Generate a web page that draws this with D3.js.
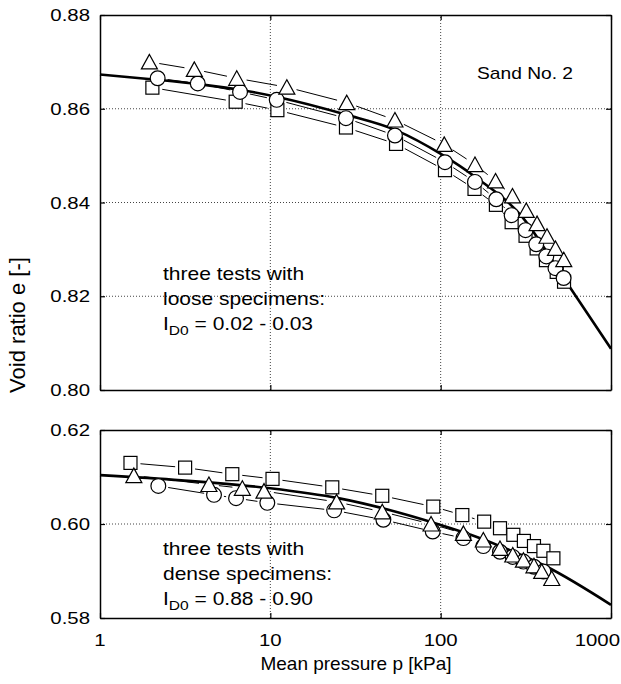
<!DOCTYPE html>
<html>
<head>
<meta charset="utf-8">
<script src="https://cdn.jsdelivr.net/npm/d3@7"></script>
<style>
  body { margin: 0; background: #fff; }
  svg { display: block; font-family: "Liberation Sans", Arial, Helvetica, sans-serif; }
</style>
</head>
<body>
<svg></svg>
<script>
// axis ticks
const pTicks = [1, 10, 100, 1000];
const looseTicks = [0.8, 0.82, 0.84, 0.86, 0.88];
const denseTicks = [0.58, 0.6, 0.62];

// loose specimens [p kPa, e]
const looseTriangles = [[1.95, 0.8700], [3.58, 0.8684], [6.35, 0.8665], [12.5, 0.8646], [28.1, 0.8613],
  [53.9, 0.8576], [105, 0.8524], [159, 0.8481], [210, 0.8446], [264, 0.8414], [318, 0.8383],
  [368, 0.8355], [421, 0.8328], [472, 0.8302], [528, 0.8278]];
const looseCircles = [[2.18, 0.8665], [3.75, 0.8654], [6.64, 0.8636], [10.9, 0.8619], [27.8, 0.8580],
  [53.9, 0.8543], [106, 0.8486], [159, 0.8444], [212, 0.8407], [261, 0.8373], [315, 0.8341],
  [364, 0.8311], [417, 0.8285], [472, 0.8260], [527, 0.8239]];
const looseSquares = [[2.03, 0.8645], [6.26, 0.8615], [11.0, 0.8597], [27.8, 0.8560], [54.7, 0.8525],
  [106, 0.8469], [158, 0.8429], [211, 0.8395], [261, 0.8358], [315, 0.8329], [366, 0.8302],
  [415, 0.8277], [480, 0.8252], [530, 0.8231]];
const looseFit = [[1, 0.8673], [2, 0.8663], [3.9, 0.8652], [7, 0.8639], [11, 0.8625], [28, 0.8587],
  [54, 0.8555], [103, 0.8501], [159, 0.8455], [300, 0.8370], [530, 0.8238], [1000, 0.8088]];

// dense specimens [p kPa, e]
const denseSquares = [[1.51, 0.6130], [3.16, 0.6120], [5.98, 0.6106], [10.3, 0.6096], [23.1, 0.6078],
  [45.4, 0.6060], [90.5, 0.6037], [134, 0.6019], [180, 0.6005], [223, 0.5991], [267, 0.5977],
  [308, 0.5964], [353, 0.5953], [401, 0.5943], [459, 0.5927]];
const denseTriangles = [[1.58, 0.6103], [4.36, 0.6084], [6.85, 0.6076], [9.18, 0.6070], [24.5, 0.6047],
  [45.4, 0.6026], [87.8, 0.6000], [136, 0.5980], [178, 0.5966], [223, 0.5948], [265, 0.5934],
  [306, 0.5923], [353, 0.5911], [392, 0.5899], [449, 0.5884]];
const denseCircles = [[2.20, 0.6081], [4.67, 0.6062], [6.29, 0.6055], [9.6, 0.6045], [23.7, 0.6029],
  [46.1, 0.6009], [89.8, 0.5984], [136, 0.5970], [178, 0.5953], [223, 0.5941], [265, 0.5930],
  [306, 0.5920], [353, 0.5909], [401, 0.5899]];
const denseFit = [[1, 0.6104], [3, 0.6093], [10, 0.6076], [25, 0.6055], [100, 0.5998], [150, 0.5977],
  [216, 0.5955], [420, 0.5909], [1000, 0.5828]];

const sizes = {
  svg: { width: 621, height: 684 },
  plot: { left: 100, right: 611 },
  top: { top: 15, bottom: 390 },
  bottom: { top: 430, bottom: 618 },
  tick: 5,
  gap: 10,
  textStretch: 1.2
};

const svg = d3.select("svg")
  .attr("width", sizes.svg.width)
  .attr("height", sizes.svg.height);

const x = d3.scaleLog().domain([1, 1000]).range([sizes.plot.left, sizes.plot.right]);
const yTop = d3.scaleLinear().domain([0.8, 0.88]).range([sizes.top.bottom, sizes.top.top]);
const yBottom = d3.scaleLinear().domain([0.58, 0.62]).range([sizes.bottom.bottom, sizes.bottom.top]);

const fitLine = y => d3.line()
  .x(d => x(d[0]))
  .y(d => y(d[1]))
  .curve(d3.curveMonotoneX);

function stretchedText(g, px, py, anchor) {
  return g.append("text")
    .attr("transform", `translate(${px},${py}) scale(${sizes.textStretch},1)`)
    .attr("text-anchor", anchor);
}

function drawPanel(y, ticks) {
  const g = svg.append("g");
  const [y0, y1] = y.range();

  // dotted grid on inner ticks
  const inner = ticks.filter(t => t !== ticks[0] && t !== ticks[ticks.length - 1]);
  g.selectAll(".hgrid").data(inner).enter().append("line")
    .attr("x1", x(1)).attr("x2", x(1000))
    .attr("y1", d => y(d)).attr("y2", d => y(d))
    .attr("stroke", "#444").attr("stroke-width", 1).attr("stroke-dasharray", "1,2");
  g.selectAll(".vgrid").data([10, 100]).enter().append("line")
    .attr("x1", d => x(d)).attr("x2", d => x(d))
    .attr("y1", y0).attr("y2", y1)
    .attr("stroke", "#444").attr("stroke-width", 1).attr("stroke-dasharray", "1,2");

  // inward ticks on all four sides
  const bottomAxis = d3.axisBottom(x).tickValues(pTicks).tickSizeInner(-sizes.tick).tickSizeOuter(0).tickFormat("");
  const topAxis = d3.axisTop(x).tickValues(pTicks).tickSizeInner(-sizes.tick).tickSizeOuter(0).tickFormat("");
  const leftAxis = d3.axisLeft(y).tickValues(ticks).tickSizeInner(-sizes.tick).tickSizeOuter(0).tickFormat("");
  const rightAxis = d3.axisRight(y).tickValues(ticks).tickSizeInner(-sizes.tick).tickSizeOuter(0).tickFormat("");
  g.append("g").attr("transform", `translate(0,${y0})`).call(bottomAxis);
  g.append("g").attr("transform", `translate(0,${y1})`).call(topAxis);
  g.append("g").attr("transform", `translate(${x(1)},0)`).call(leftAxis);
  g.append("g").attr("transform", `translate(${x(1000)},0)`).call(rightAxis);
  g.selectAll(".domain").attr("stroke", "#000").attr("stroke-width", 1.5);
  g.selectAll(".tick line").attr("stroke", "#000").attr("stroke-width", 1.2);

  // y tick labels
  ticks.forEach(t => {
    stretchedText(g, 90, y(t) + 6, "end")
      .attr("font-size", 17)
      .text(d3.format(".2f")(t));
  });
  return g;
}

function connect(g, y, data) {
  const pts = data.map(d => [x(d[0]), y(d[1])]);
  for (let i = 0; i < pts.length - 1; i++) {
    const [ax, ay] = pts[i];
    const [bx, by] = pts[i + 1];
    const len = Math.hypot(bx - ax, by - ay);
    if (len < sizes.gap * 2 + 2) continue;
    const ux = (bx - ax) / len;
    const uy = (by - ay) / len;
    g.append("line")
      .attr("x1", ax + ux * sizes.gap).attr("y1", ay + uy * sizes.gap)
      .attr("x2", bx - ux * sizes.gap).attr("y2", by - uy * sizes.gap)
      .attr("stroke", "#000").attr("stroke-width", 1);
  }
}

function drawSquares(g, y, data) {
  g.selectAll(null).data(data).enter().append("rect")
    .attr("x", d => x(d[0]) - 6.5).attr("y", d => y(d[1]) - 6.5)
    .attr("width", 13).attr("height", 13)
    .attr("fill", "#fff").attr("stroke", "#000").attr("stroke-width", 1.2);
}

function drawCircles(g, y, data) {
  g.selectAll(null).data(data).enter().append("circle")
    .attr("cx", d => x(d[0])).attr("cy", d => y(d[1])).attr("r", 7.4)
    .attr("fill", "#fff").attr("stroke", "#000").attr("stroke-width", 1.2);
}

function drawTriangles(g, y, data) {
  g.selectAll(null).data(data).enter().append("path")
    .attr("d", d => {
      const cx = x(d[0]);
      const cy = y(d[1]);
      return `M${cx},${cy - 7.5}L${cx - 8},${cy + 7}L${cx + 8},${cy + 7}Z`;
    })
    .attr("fill", "#fff").attr("stroke", "#000").attr("stroke-width", 1.2);
}

function drawSeries(y, squares, circles, triangles, fit) {
  const g = svg.append("g");
  [squares, circles, triangles].forEach(s => connect(g, y, s));
  g.append("path")
    .attr("d", fitLine(y)(fit))
    .attr("fill", "none").attr("stroke", "#000").attr("stroke-width", 2.6);
  drawSquares(g, y, squares);
  drawCircles(g, y, circles);
  drawTriangles(g, y, triangles);
}

drawPanel(yTop, looseTicks);
drawPanel(yBottom, denseTicks);
drawSeries(yTop, looseSquares, looseCircles, looseTriangles, looseFit);
drawSeries(yBottom, denseSquares, denseCircles, denseTriangles, denseFit);

// x tick labels, the last one kept inside the window
pTicks.forEach(p => {
  const last = p === pTicks[pTicks.length - 1];
  stretchedText(svg, last ? 620 : x(p), 646, last ? "end" : "middle")
    .attr("font-size", 17).text(p);
});

// axis titles
svg.append("text")
  .attr("x", 356).attr("y", 670)
  .attr("text-anchor", "middle").attr("font-size", 19)
  .text("Mean pressure p [kPa]");
svg.append("text")
  .attr("transform", "translate(25,325) scale(1.0,1) rotate(-90)")
  .attr("text-anchor", "middle").attr("font-size", 22)
  .text("Void ratio e [-]");

// annotations
stretchedText(svg, 477, 79, "start").attr("font-size", 16).text("Sand No. 2");

function annotation(left, top, kind, range) {
  const lines = ["three tests with", kind + " specimens:"];
  lines.forEach((t, i) => {
    stretchedText(svg, left, top + i * 25, "start").attr("font-size", 17.5).text(t);
  });
  const t = stretchedText(svg, left, top + 50, "start").attr("font-size", 17.5);
  t.append("tspan").text("I");
  t.append("tspan").attr("font-size", 13).attr("dy", 5).text("D0");
  t.append("tspan").attr("dy", -5).text(" = " + range);
}

annotation(163, 280, "loose", "0.02 - 0.03");
annotation(163, 555, "dense", "0.88 - 0.90");
</script>
</body>
</html>
